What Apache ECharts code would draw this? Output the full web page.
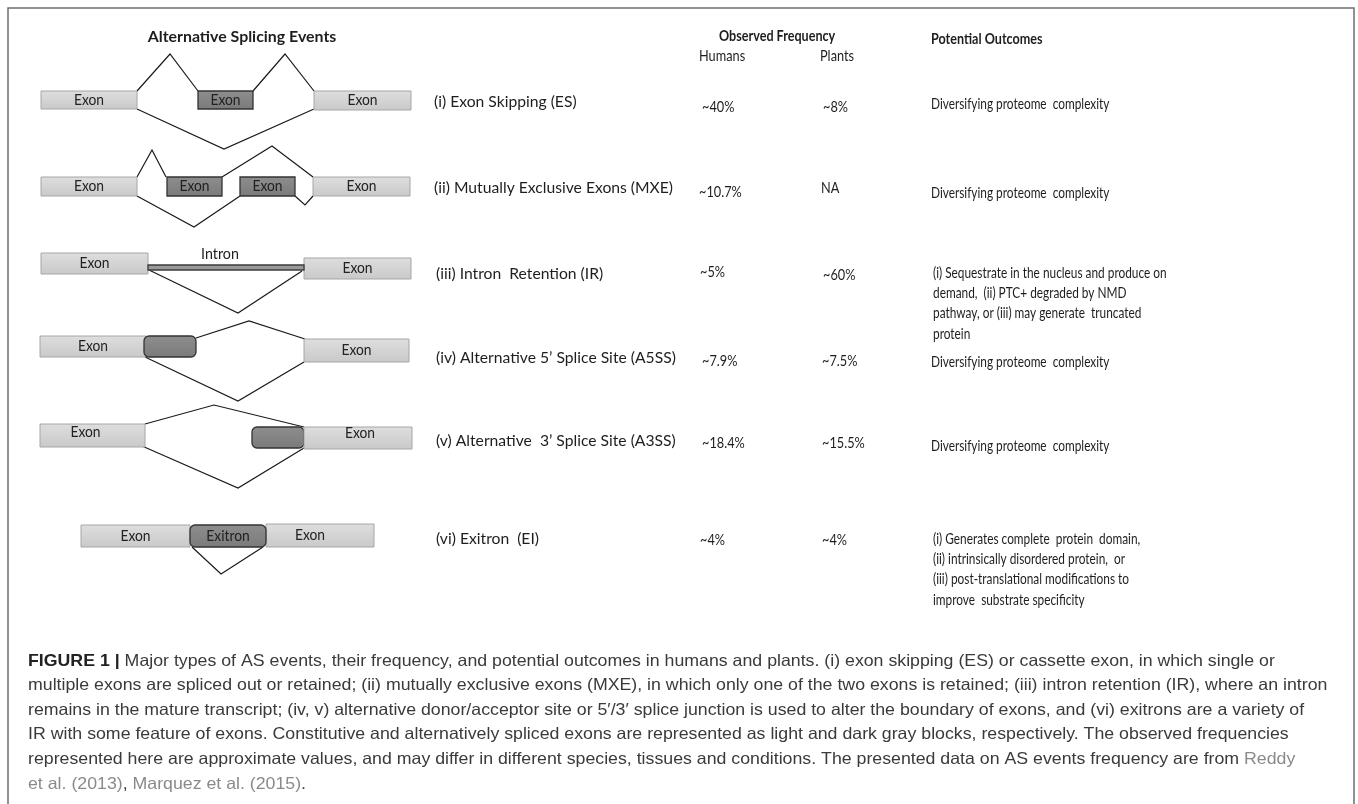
<!DOCTYPE html>
<html><head><meta charset="utf-8">
<script src="https://cdn.jsdelivr.net/npm/echarts@6/dist/echarts.min.js"></script>
<style>html,body{margin:0;padding:0;background:#fff}#c{width:1358px;height:804px}</style>
</head><body><div id="c"></div><script>
// ---------- data ----------
const eventLabels = ['(i) Exon Skipping (ES)', '(ii) Mutually Exclusive Exons (MXE)', '(iii) Intron  Retention (IR)',
  '(iv) Alternative 5\u2019 Splice Site (A5SS)', '(v) Alternative  3\u2019 Splice Site (A3SS)', '(vi) Exitron  (EI)'];
const humansFreq = ['~40%', '~10.7%', '~5%', '~7.9%', '~18.4%', '~4%'];
const plantsFreq = ['~8%', 'NA', '~60%', '~7.5%', '~15.5%', '~4%'];
const outcomes = [
  ['Diversifying proteome  complexity'],
  ['Diversifying proteome  complexity'],
  ['(i) Sequestrate in the nucleus and produce on', 'demand,  (ii) PTC+ degraded by NMD', 'pathway, or (iii) may generate  truncated', 'protein'],
  ['Diversifying proteome  complexity'],
  ['Diversifying proteome  complexity'],
  ['(i) Generates complete  protein  domain,', '(ii) intrinsically disordered protein,  or', '(iii) post-translational modifications to', 'improve  substrate specificity']
];
// diagram: exon blocks [x0, x1, yTop, yBottom, kind, label]  kind: c = constitutive, a = alternative, r = alternative (rounded), i = intron
const exonBlocks = [
  [41,137,91,109,'c','Exon'], [198,253,91,109,'a','Exon'], [314,411,91,110,'c','Exon'],
  [41,137,177,196,'c','Exon'], [167,222,177,196,'a','Exon'], [240,295,177,196,'a','Exon'], [313,410,177,196,'c','Exon'],
  [41,148,253,274,'c','Exon'], [304,411,258,279,'c','Exon'], [148,304,265,270,'i',''],
  [40,146,336,357,'c','Exon'], [144,196,336,357,'r',''], [304,409,339,362,'c','Exon'],
  [40,145,424,447,'c','Exon'], [252,304,427,448,'r',''], [304,412,427,449,'c','Exon'],
  [81,190,525,547,'c','Exon'], [266,374,524,547,'c','Exon'], [190,266,525,547,'r','Exitron']
];
// splice junctions (polylines)
const junctions = [
  [[137,91],[170,54],[198,91]], [[253,91],[285,54],[314,91]], [[137,109],[224,149],[314,109]],
  [[137,177],[152,150],[166,177]], [[222,177],[272,146],[313,177]], [[137,196],[194,227],[240,196]], [[295,196],[305,205],[313,196]],
  [[149,270],[238,313],[302,271]],
  [[196,338],[249,321],[305,339]], [[145,357],[238,401],[304,362]],
  [[145,424],[214,405],[304,427]], [[142,446],[238,488],[304,448]],
  [[192,547],[221,574],[263,547]]
];
const captionLines = [
  '{b|FIGURE 1 |} Major types of AS events, their frequency, and potential outcomes in humans and plants. (i) exon skipping (ES) or cassette exon, in which single or',
  'multiple exons are spliced out or retained; (ii) mutually exclusive exons (MXE), in which only one of the two exons is retained; (iii) intron retention (IR), where an intron',
  'remains in the mature transcript; (iv, v) alternative donor/acceptor site or 5\u2032/3\u2032 splice junction is used to alter the boundary of exons, and (vi) exitrons are a variety of',
  'IR with some feature of exons. Constitutive and alternatively spliced exons are represented as light and dark gray blocks, respectively. The observed frequencies',
  'represented here are approximate values, and may differ in different species, tissues and conditions. The presented data on AS events frequency are from {g|Reddy}',
  '{g|et al. (2013)}, {g|Marquez et al. (2015)}.'
];

// ---------- layout ----------
const labelPos = [[434,102],[434,188],[436,274],[436,358],[436,441],[436,539]];
const humansPos = [[702,107],[699,192],[700,272],[702,361],[702,443],[700,540]];
const plantsPos = [[823,107],[821,188],[823,275],[822,361],[822,443],[822,540]];
const outcomePos = [[931,104],[931,193],[933,273],[931,362],[931,446],[933,539]];
const exonLabelShift = {13:[-7,-3], 15:[2,-5], 17:[-10,0]};
const FONT = 'Lato, "Open Sans", sans-serif';
const CAPFONT = '"Liberation Sans", Arial, sans-serif';

const texts = [];
function addText(x, y, t, font, sx, align) { texts.push([x, y, t, font, sx, align || 'left']); }
addText(242, 37, 'Alternative Splicing Events', 'bold 15px ' + FONT, 1.06, 'center');
addText(719, 36, 'Observed Frequency', 'bold 15px ' + FONT, 0.84);
addText(699, 56, 'Humans', '15px ' + FONT, 0.85);
addText(820, 56, 'Plants', '15px ' + FONT, 0.85);
addText(931, 39, 'Potential Outcomes', 'bold 15px ' + FONT, 0.84);
addText(220, 254, 'Intron', '15px ' + FONT, 0.95, 'center');
for (let i = 0; i < 6; i++) {
  addText(labelPos[i][0], labelPos[i][1], eventLabels[i], '16px ' + FONT, 0.98);
  addText(humansPos[i][0], humansPos[i][1], humansFreq[i], '15px ' + FONT, 0.85);
  addText(plantsPos[i][0], plantsPos[i][1], plantsFreq[i], '15px ' + FONT, 0.85);
  outcomes[i].forEach((ln, k) => addText(outcomePos[i][0], outcomePos[i][1] + k * 20.3, ln, '15px ' + FONT, 0.79));
}

const chart = echarts.init(document.getElementById('c'), null, {renderer: 'canvas'});

function renderExon(params, api) {
  const d = exonBlocks[params.dataIndex];
  const p0 = api.coord([d[0], d[2]]), p1 = api.coord([d[1], d[3]]);
  const w = p1[0] - p0[0], h = p1[1] - p0[1];
  let fill, stroke, r = 0, lw = 1;
  if (d[4] === 'c') {
    fill = new echarts.graphic.LinearGradient(0, 0, 0, 1, [{offset: 0, color: '#dedede'}, {offset: 1, color: '#c9c9c9'}]);
    stroke = '#a6a6a6';
  } else if (d[4] === 'i') {
    fill = '#9a9a9a'; stroke = '#3c3c3c'; lw = 1.3;
  } else {
    fill = new echarts.graphic.LinearGradient(0, 0, 0, 1, [{offset: 0, color: '#8e8e8e'}, {offset: 1, color: '#7a7a7a'}]);
    stroke = '#333'; lw = 1.3; r = d[4] === 'r' ? 5 : 0;
  }
  const children = [{type: 'rect', shape: {x: p0[0], y: p0[1], width: w, height: h, r: r}, style: {fill: fill, stroke: stroke, lineWidth: lw}}];
  if (d[5]) {
    const s = exonLabelShift[params.dataIndex] || [0, 0];
    const cx = p0[0] + w / 2 + s[0], cy = p0[1] + h / 2 + s[1];
    children.push({type: 'text', x: cx, y: cy, scaleX: 0.92, style: {text: d[5], font: '15px ' + FONT, fill: '#222', align: 'center', verticalAlign: 'middle'}});
  }
  return {type: 'group', children: children};
}
function renderJunction(params, api) {
  const pts = junctions[params.dataIndex].map(p => api.coord(p));
  return {type: 'polyline', shape: {points: pts}, style: {stroke: '#1a1a1a', lineWidth: 1.2, fill: null}};
}
function renderText(params, api) {
  const t = texts[params.dataIndex];
  const p = api.coord([t[0], t[1]]);
  return {type: 'text', x: p[0], y: p[1], scaleX: t[4], style: {text: t[2], font: t[3], fill: '#1e1e1e', align: t[5], verticalAlign: 'middle'}};
}

chart.setOption({
  animation: false,
  backgroundColor: '#fff',
  grid: {left: 0, right: 0, top: 0, bottom: 0, containLabel: false},
  xAxis: {type: 'value', min: 0, max: 1358, show: false},
  yAxis: {type: 'value', min: 0, max: 804, inverse: true, show: false},
  graphic: [
    {type: 'rect', shape: {x: 8, y: 8, width: 1346, height: 820}, style: {fill: null, stroke: '#6e6e6e', lineWidth: 1.5}, silent: true},
    ...captionLines.map((ln, i) => ({
      type: 'text', x: 28, y: 661 + i * 24.6, scaleX: 1.075,
      style: {text: ln, font: '16.5px ' + CAPFONT, fill: '#3a3a3a', align: 'left', verticalAlign: 'middle',
        rich: {b: {font: 'bold 16.5px ' + CAPFONT, fill: '#222'}, g: {font: '16.5px ' + CAPFONT, fill: '#8a8a8a'}}}
    }))
  ],
  series: [
    {type: 'custom', name: 'junctions', renderItem: renderJunction, data: junctions.map((j, i) => [j[0][0], j[0][1], i]), silent: true, clip: false},
    {type: 'custom', name: 'exons', renderItem: renderExon, data: exonBlocks.map(d => [d[0], d[2], d[1], d[3]]), silent: true, clip: false},
    {type: 'custom', name: 'texts', renderItem: renderText, data: texts.map(t => [t[0], t[1]]), silent: true, clip: false}
  ]
});
</script></body></html>
